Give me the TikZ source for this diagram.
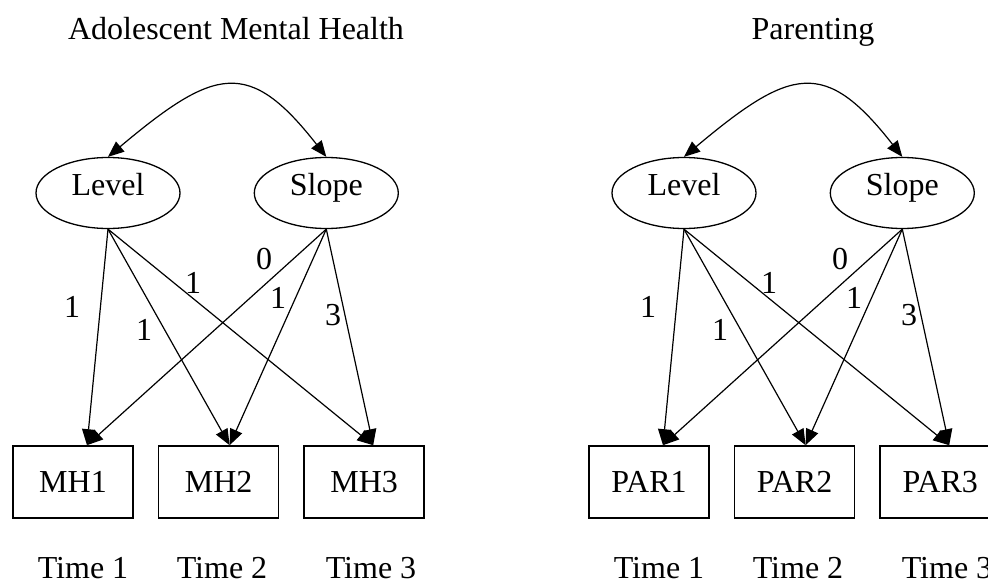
\documentclass[tikz,border=0pt]{standalone}
\usepackage{fontspec}
\setmainfont{Liberation Serif}
\usetikzlibrary{shapes.geometric,arrows.meta,positioning}

\begin{document}
\begin{tikzpicture}[
  x=1pt,
  y=-1pt,
  font=\fontsize{32}{37}\selectfont,
  factor/.style={
    ellipse,
    draw=black,
    line width=1.3pt,
    minimum width=144pt,
    minimum height=71pt,
    text height=0.68em,
    text depth=0.22em,
    inner sep=0pt
  },
  obsbox/.style={
    rectangle,
    draw=black,
    line width=1.6pt,
    minimum width=120pt,
    minimum height=72pt,
    inner sep=0pt
  },
  arrow/.style={
    ->,
    line width=1.2pt,
    draw=black,
    >={Triangle[length=16pt,width=13pt]}
  },
  twoway/.style={
    <->,
    line width=1.2pt,
    draw=black,
    >={Triangle[length=16pt,width=13pt]}
  },
  coef/.style={inner sep=0pt}
]

\useasboundingbox (0,0) rectangle (988,583);
\clip (0,0) rectangle (988,583);

% Adolescent Mental Health
\node[anchor=base] (mhtitle) at (236,40) {Adolescent Mental Health};

% Growth factors
\node[factor] (mhlvl) at (108,193) {Level};
\node[factor, right=73pt of mhlvl] (mhslp) {Slope};

% Observed measures
\node[obsbox] (mh1) at (73,482) {MH1};
\node[obsbox, right=24pt of mh1] (mh2) {MH2};
\node[obsbox, right=24pt of mh2] (mh3) {MH3};

% Time points
\node[anchor=base] (mht1) at (83,578) {Time 1};
\node[anchor=base] (mht2) at (222,578) {Time 2};
\node[anchor=base] (mht3) at (371,578) {Time 3};

% Arrow ends on the boxes
\coordinate (mh1in) at ([xshift=14pt]mh1.north);
\coordinate (mh2in) at ([xshift=11pt]mh2.north);
\coordinate (mh3in) at ([xshift=9pt]mh3.north);

% Covariance
\draw[twoway] (mhlvl.north) .. controls (215,67) and (249,58) .. (mhslp.north);

% Loadings
\draw[arrow] (mhlvl.south) -- (mh1in);
\draw[arrow] (mhlvl.south) -- (mh2in);
\draw[arrow] (mhlvl.south) -- (mh3in);
\draw[arrow] (mhslp.south) -- (mh1in);
\draw[arrow] (mhslp.south) -- (mh2in);
\draw[arrow] (mhslp.south) -- (mh3in);

\node[coef] (mhl1) at (72,307) {1};
\node[coef] (mhl2) at (144,330) {1};
\node[coef] (mhl3) at (193,283) {1};
\node[coef] (mhs1) at (264,259) {0};
\node[coef] (mhs2) at (278,298) {1};
\node[coef] (mhs3) at (333,315) {3};

% Parenting
\node[anchor=base] (partitle) at (813,40) {Parenting};

% Growth factors
\node[factor] (parlvl) at (684,193) {Level};
\node[factor, right=73pt of parlvl] (parslp) {Slope};

% Observed measures
\node[obsbox] (par1) at (649,482) {PAR1};
\node[obsbox, right=24pt of par1] (par2) {PAR2};
\node[obsbox, right=24pt of par2] (par3) {PAR3};

% Time points
\node[anchor=base] (part1) at (659,578) {Time 1};
\node[anchor=base] (part2) at (798,578) {Time 2};
\node[anchor=base] (part3) at (947,578) {Time 3};

% Arrow ends on the boxes
\coordinate (par1in) at ([xshift=14pt]par1.north);
\coordinate (par2in) at ([xshift=11pt]par2.north);
\coordinate (par3in) at ([xshift=9pt]par3.north);

% Covariance
\draw[twoway] (parlvl.north) .. controls (791,67) and (825,58) .. (parslp.north);

% Loadings
\draw[arrow] (parlvl.south) -- (par1in);
\draw[arrow] (parlvl.south) -- (par2in);
\draw[arrow] (parlvl.south) -- (par3in);
\draw[arrow] (parslp.south) -- (par1in);
\draw[arrow] (parslp.south) -- (par2in);
\draw[arrow] (parslp.south) -- (par3in);

\node[coef] (parl1) at (648,307) {1};
\node[coef] (parl2) at (720,330) {1};
\node[coef] (parl3) at (769,283) {1};
\node[coef] (pars1) at (840,259) {0};
\node[coef] (pars2) at (854,298) {1};
\node[coef] (pars3) at (909,315) {3};

\end{tikzpicture}
\end{document}
